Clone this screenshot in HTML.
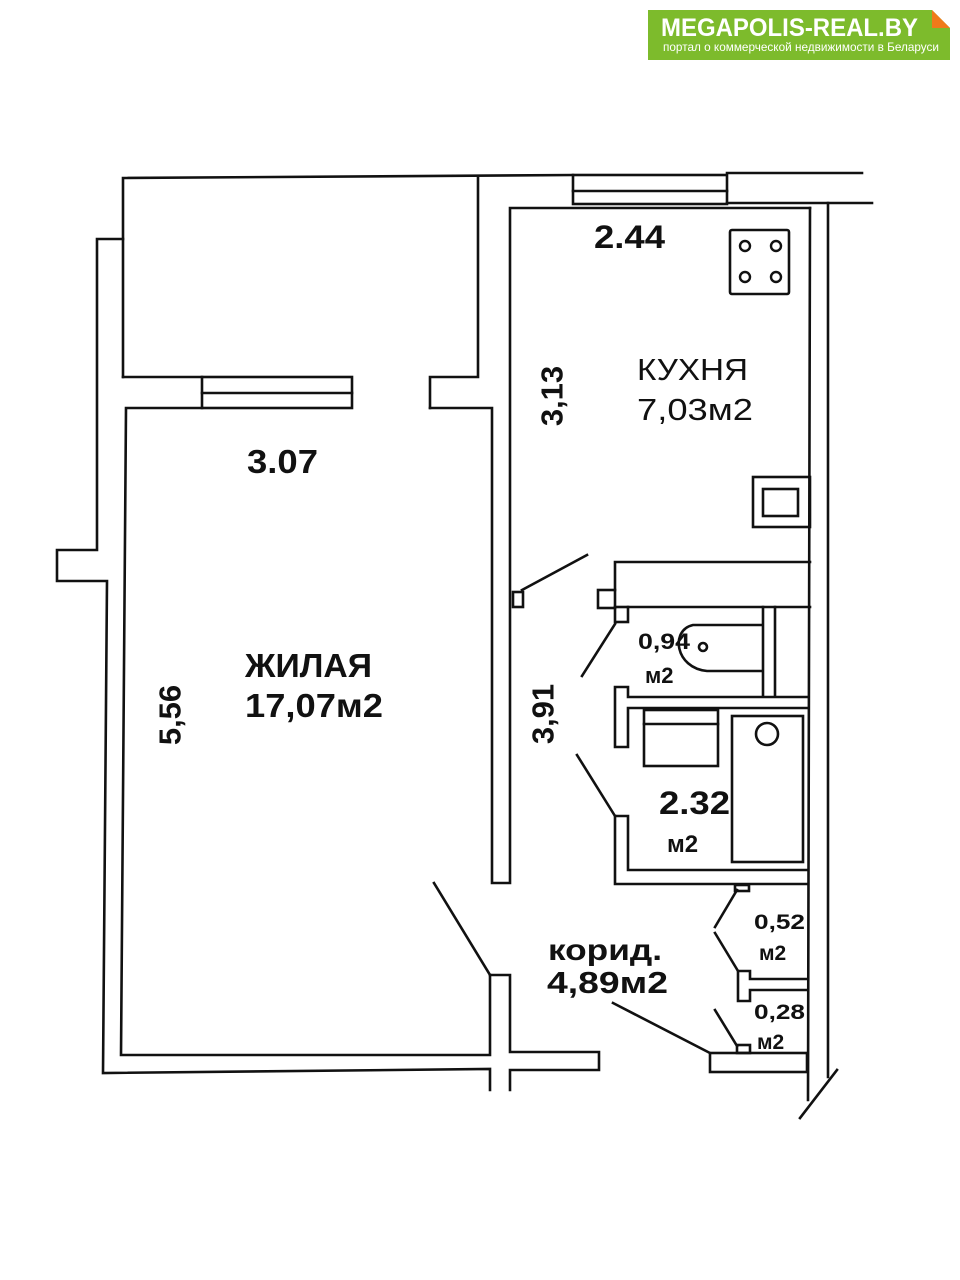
<!DOCTYPE html>
<html><head><meta charset="utf-8"><style>
html,body{margin:0;padding:0;background:#fff;}
svg{display:block;}
text{font-family:"Liberation Sans","DejaVu Sans",sans-serif;fill:#111;}
</style></head><body>
<svg width="960" height="1280" viewBox="0 0 960 1280" xmlns="http://www.w3.org/2000/svg">
<rect width="960" height="1280" fill="#fff"/>
<!-- logo -->
<rect x="648" y="10" width="302" height="50" fill="#7dbb2c"/>
<polygon points="932,10 950,10 950,28" fill="#fff"/>
<polygon points="932,10 950,28 932,28" fill="#f07a1a"/>
<text x="661" y="36" font-size="25" font-weight="bold" style="fill:#fff" textLength="257" lengthAdjust="spacingAndGlyphs">MEGAPOLIS-REAL.BY</text>
<text x="663" y="51" font-size="12" style="fill:#fff" textLength="276" lengthAdjust="spacingAndGlyphs">портал о коммерческой недвижимости в Беларуси</text>

<g fill="none" stroke="#111" stroke-width="2.6" stroke-linecap="square">
<polyline points="123,377 123,178 573,175"/>
<line x1="727" y1="173" x2="862" y2="173"/>
<line x1="727" y1="203" x2="872" y2="203"/>
<rect x="573" y="175" width="154" height="29"/>
<line x1="573" y1="191" x2="727" y2="191"/>
<line x1="123" y1="377" x2="202" y2="377"/>
<rect x="202" y="377" width="150" height="31"/>
<line x1="202" y1="393" x2="352" y2="393"/>
<polyline points="430,408 430,377 478,377 478,178"/>
<polyline points="202,408 126,408 121,1055 490,1055 490,975"/>
<polyline points="430,408 492,408 492,883 510,883 510,208 810,208"/>
<polyline points="123,239 97,239 97,550 57,550 57,581 107,581 103,1073 490,1069 490,1090"/>
<polyline points="510,1090 510,1070 599,1070 599,1052 510,1052 510,975 490,975"/>
<line x1="434" y1="883" x2="490" y2="975"/>
<rect x="730" y="230" width="59" height="64" rx="2"/>
<rect x="753" y="477" width="57" height="50"/>
<rect x="763" y="489" width="35" height="27"/>
<line x1="810" y1="208" x2="808" y2="1100"/>
<line x1="828" y1="203" x2="828" y2="1077"/>
<line x1="837" y1="1070" x2="800" y2="1118"/>
<line x1="587" y1="555" x2="522" y2="590"/>
<rect x="513" y="592" width="10" height="15"/>
<polyline points="615,590 615,562 810,562"/>
<rect x="598" y="590" width="17" height="18"/>
<rect x="615" y="607" width="13" height="15"/>
<line x1="628" y1="607" x2="810" y2="607"/>
<line x1="582" y1="676" x2="615" y2="624"/>
<line x1="763" y1="607" x2="763" y2="695"/>
<line x1="775" y1="607" x2="775" y2="695"/>
<path d="M762,625 L693,625 C670,630 675,668 707,671 L762,671"/>
<circle cx="703" cy="647" r="4"/>
<polyline points="808,697 628,697 628,687 615,687 615,747 628,747 628,708 808,708"/>
<rect x="644" y="710" width="74" height="56"/>
<line x1="644" y1="724" x2="718" y2="724"/>
<rect x="732" y="716" width="71" height="146"/>
<circle cx="767" cy="734" r="11"/>
<polyline points="577,755 615,816 628,816 628,870 808,870"/>
<polyline points="615,816 615,884 808,884"/>
<rect x="735" y="885" width="14" height="6"/>
<line x1="737" y1="890" x2="715" y2="927"/>
<line x1="715" y1="933" x2="738" y2="971"/>
<polyline points="808,979 750,979 750,971 738,971 738,1001 750,1001 750,990 808,990"/>
<line x1="715" y1="1010" x2="737" y2="1046"/>
<rect x="737" y="1045" width="13" height="8"/>
<line x1="613" y1="1003" x2="710" y2="1053"/>
<rect x="710" y="1053" width="97" height="19"/>
</g>
<g fill="none" stroke="#111" stroke-width="2.4">
<circle cx="745" cy="246" r="5"/><circle cx="776" cy="246" r="5"/>
<circle cx="745" cy="277" r="5"/><circle cx="776" cy="277" r="5"/>
</g>

<g font-weight="bold">
<text x="247" y="473" font-size="33" textLength="71" lengthAdjust="spacingAndGlyphs">3.07</text>
<text x="594" y="248" font-size="32" textLength="71" lengthAdjust="spacingAndGlyphs">2.44</text>
<text x="552" y="396" font-size="31" transform="rotate(-90 552 396)" text-anchor="middle" dominant-baseline="central">3,13</text>
<text x="637" y="380" font-size="31" font-weight="normal" textLength="111" lengthAdjust="spacingAndGlyphs">КУХНЯ</text>
<text x="637" y="420" font-size="31" font-weight="normal" textLength="116" lengthAdjust="spacingAndGlyphs">7,03м2</text>
<text x="245" y="677" font-size="33" textLength="127" lengthAdjust="spacingAndGlyphs">ЖИЛАЯ</text>
<text x="245" y="717" font-size="33" textLength="138" lengthAdjust="spacingAndGlyphs">17,07м2</text>
<text x="170" y="715" font-size="31" transform="rotate(-90 170 715)" text-anchor="middle" dominant-baseline="central">5,56</text>
<text x="543" y="714" font-size="31" transform="rotate(-90 543 714)" text-anchor="middle" dominant-baseline="central">3,91</text>
<text x="638" y="649" font-size="22" textLength="52" lengthAdjust="spacingAndGlyphs">0,94</text>
<text x="645" y="683" font-size="22">м2</text>
<text x="659" y="814" font-size="32" textLength="71" lengthAdjust="spacingAndGlyphs">2.32</text>
<text x="667" y="852" font-size="24">м2</text>
<text x="754" y="929" font-size="21" textLength="51" lengthAdjust="spacingAndGlyphs">0,52</text>
<text x="759" y="960" font-size="21">м2</text>
<text x="754" y="1019" font-size="21" textLength="51" lengthAdjust="spacingAndGlyphs">0,28</text>
<text x="757" y="1049" font-size="21">м2</text>
<text x="548" y="960" font-size="30" textLength="114" lengthAdjust="spacingAndGlyphs">корид.</text>
<text x="547" y="993" font-size="31" textLength="121" lengthAdjust="spacingAndGlyphs">4,89м2</text>
</g>
</svg>
</body></html>
